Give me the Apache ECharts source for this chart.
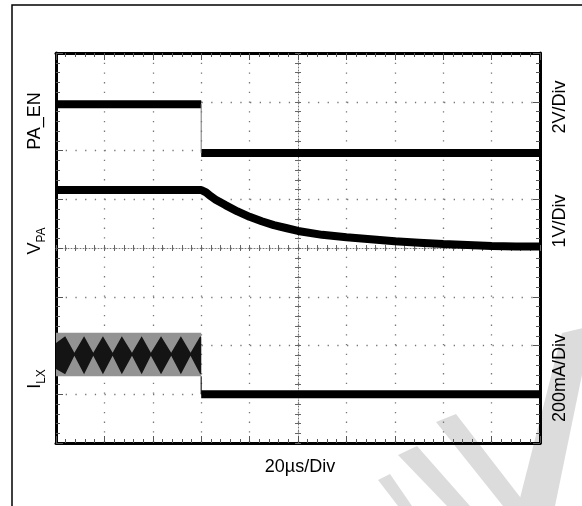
<!DOCTYPE html>
<html>
<head>
<meta charset="utf-8">
<script src="https://cdn.jsdelivr.net/npm/echarts@6/dist/echarts.min.js"></script>
<style>
  html, body { margin: 0; padding: 0; background: #fff; }
  #chart { width: 582px; height: 506px; }
</style>
</head>
<body>
<div id="chart"></div>
<script>
// 示波器截图：数值以格 (div) 为单位，x 0~10 格，y 0~8 格（自下而上）
var stepAt = 3;                       // 下降沿所在的格
var paEnLevels = [6.95, 5.95];        // PA_EN 高 / 低
var vpaX = [0, 3, 3.1, 3.2, 3.3, 3.5, 3.75, 4.0, 4.25, 4.5, 4.75, 5.0, 5.5, 6.0, 6.5, 7.0, 7.5, 8.0, 8.5, 9.0, 9.5, 10];
var vpaY = [5.19, 5.19, 5.14, 5.06, 4.99, 4.88, 4.75, 4.64, 4.55, 4.47, 4.41, 4.35, 4.27, 4.22, 4.18, 4.14, 4.11, 4.08, 4.06, 4.04, 4.03, 4.03];
var ilxBand = [1.37, 2.26];           // 纹波灰带 下沿 / 上沿
var ilxLow = 1.0;                     // 关断后电流
var ripX = [0, 0.19, 0.38, 0.58, 0.77, 0.97, 1.17, 1.36, 1.57, 1.77, 1.96, 2.17, 2.38, 2.58, 2.78, 2.98, 3];
var ripTop = [2.05, 2.19, 1.85, 2.19, 1.85, 2.19, 1.85, 2.19, 1.85, 2.19, 1.85, 2.19, 1.85, 2.19, 1.85, 2.19, 2.17];
var ripBottom = [1.52, 1.41, 1.79, 1.41, 1.79, 1.41, 1.79, 1.41, 1.79, 1.41, 1.79, 1.41, 1.79, 1.41, 1.79, 1.41, 1.43];

var chart = echarts.init(document.getElementById('chart'));

function pairs(xs, ys) {
    return xs.map(function (x, i) { return [x, ys[i]]; });
}

var dotted = { color: '#777', width: 1.3, type: [1.3, 8.4] };

function edgeAxis(pos, isX) {
    return {
        type: 'value', position: pos, min: 0, max: isX ? 10 : 8, interval: 1,
        axisLine: { show: true, onZero: false, lineStyle: { color: '#000', width: 3 } },
        axisTick: { show: true, inside: true, length: 7, lineStyle: { color: '#555', width: 1 } },
        minorTick: { show: true, splitNumber: 5, length: 4, lineStyle: { color: '#555', width: 1 } },
        axisLabel: { show: false },
        splitLine: { show: false }
    };
}

function centerAxis(pos, isX, inside) {
    return {
        type: 'value', position: pos, min: 0, max: isX ? 10 : 8, interval: 1,
        offset: isX ? -195 : -242,
        axisLine: { show: inside, onZero: false, lineStyle: { color: '#777', width: 1, type: [1, 2] } },
        axisTick: { show: true, inside: inside, length: 3, lineStyle: { color: '#666', width: 1 } },
        minorTick: { show: true, splitNumber: 5, length: 3, lineStyle: { color: '#666', width: 1 } },
        axisLabel: { show: false },
        splitLine: { show: false }
    };
}

var xBottom = edgeAxis('bottom', true);
xBottom.splitLine = { show: true, lineStyle: dotted };
var yLeft = edgeAxis('left', false);
yLeft.splitLine = { show: true, lineStyle: dotted };

function flat(data, width, color) {
    return {
        type: 'line', data: data, symbol: 'none', z: 5,
        lineStyle: { color: color || '#000', width: width }
    };
}

// 上下包络之间填充成多边形
function envelope(xs, tops, bottoms, color, z) {
    return {
        type: 'custom', z: z,
        data: xs.map(function (x, i) { return [x, tops[i], bottoms[i]]; }),
        encode: { x: 0, y: [1, 2] },
        renderItem: function (params, api) {
            if (params.dataIndex !== 0) return;
            var pts = [];
            for (var i = 0; i < xs.length; i++) pts.push(api.coord([xs[i], tops[i]]));
            for (var j = xs.length - 1; j >= 0; j--) pts.push(api.coord([xs[j], bottoms[j]]));
            return { type: 'polygon', shape: { points: pts }, style: { fill: color } };
        }
    };
}

var font = 'Liberation Sans, Arial';

var option = {
    animation: false,
    grid: { left: 56, top: 53, width: 484, height: 390, containLabel: false },
    xAxis: [xBottom, edgeAxis('top', true), centerAxis('bottom', true, true), centerAxis('bottom', true, false)],
    yAxis: [yLeft, edgeAxis('right', false), centerAxis('left', false, true), centerAxis('left', false, false)],
    series: [
        // PA_EN
        flat([[0, paEnLevels[0]], [stepAt, paEnLevels[0]]], 8),
        flat([[stepAt, paEnLevels[1]], [10, paEnLevels[1]]], 8),
        flat([[stepAt, paEnLevels[0]], [stepAt, paEnLevels[1]]], 1, '#777'),
        // VPA
        flat(pairs(vpaX, vpaY), 8),
        // ILX 纹波灰带 + 黑色菱形包络
        envelope([0, stepAt], [ilxBand[1], ilxBand[1]], [ilxBand[0], ilxBand[0]], '#939393', 3),
        envelope(ripX, ripTop, ripBottom, '#141414', 4),
        flat([[stepAt, ilxBand[0]], [stepAt, ilxLow]], 1.2, '#222'),
        flat([[stepAt, ilxLow], [10, ilxLow]], 8)
    ],
    graphic: [
        { type: 'rect', z: 0, silent: true, shape: { x: 12, y: 5, width: 620, height: 560 },
          style: { fill: 'none', stroke: '#000', lineWidth: 1.5 } },
        // 水印
        { type: 'polygon', z: 0, silent: true, shape: { points: [[436, 422], [456, 414], [527, 506], [503, 506]] }, style: { fill: '#dcdcdc' } },
        { type: 'polygon', z: 0, silent: true, shape: { points: [[398, 455], [417, 446], [470, 506], [447, 506]] }, style: { fill: '#dcdcdc' } },
        { type: 'polygon', z: 0, silent: true, shape: { points: [[378, 480], [390, 474], [412, 506], [398, 506]] }, style: { fill: '#dcdcdc' } },
        { type: 'polygon', z: 0, silent: true, shape: { points: [[562, 333], [592, 326], [555, 506], [518, 506]] }, style: { fill: '#dcdcdc' } },
        // 文字
        { type: 'text', z: 100, x: 35, y: 121, rotation: Math.PI / 2,
          style: { text: 'PA_EN', fontSize: 18, fontFamily: font, fill: '#000', textAlign: 'center', textVerticalAlign: 'middle' } },
        { type: 'text', z: 100, x: 37, y: 241, rotation: Math.PI / 2,
          style: { text: '{v|V}{s|PA}', fill: '#000', textAlign: 'center', textVerticalAlign: 'middle',
                   rich: { v: { fontSize: 18, fontFamily: font, verticalAlign: 'bottom', padding: [0, 0, 4, 0] },
                           s: { fontSize: 12, fontFamily: font, verticalAlign: 'bottom' } } } },
        { type: 'text', z: 100, x: 37, y: 379, rotation: Math.PI / 2,
          style: { text: '{v|I}{s|LX}', fill: '#000', textAlign: 'center', textVerticalAlign: 'middle',
                   rich: { v: { fontSize: 18, fontFamily: font, verticalAlign: 'bottom', padding: [0, 0, 4, 0] },
                           s: { fontSize: 12, fontFamily: font, verticalAlign: 'bottom' } } } },
        { type: 'text', z: 100, x: 560, y: 107, rotation: Math.PI / 2,
          style: { text: '2V/Div', fontSize: 18, fontFamily: font, fill: '#000', textAlign: 'center', textVerticalAlign: 'middle' } },
        { type: 'text', z: 100, x: 560, y: 221, rotation: Math.PI / 2,
          style: { text: '1V/Div', fontSize: 18, fontFamily: font, fill: '#000', textAlign: 'center', textVerticalAlign: 'middle' } },
        { type: 'text', z: 100, x: 560, y: 378, rotation: Math.PI / 2,
          style: { text: '200mA/Div', fontSize: 18, fontFamily: font, fill: '#000', textAlign: 'center', textVerticalAlign: 'middle' } },
        { type: 'text', z: 100, x: 300, y: 467,
          style: { text: '20µs/Div', fontSize: 18, fontFamily: font, fill: '#000', textAlign: 'center', textVerticalAlign: 'middle' } }
    ]
};

chart.setOption(option);
</script>
</body>
</html>
